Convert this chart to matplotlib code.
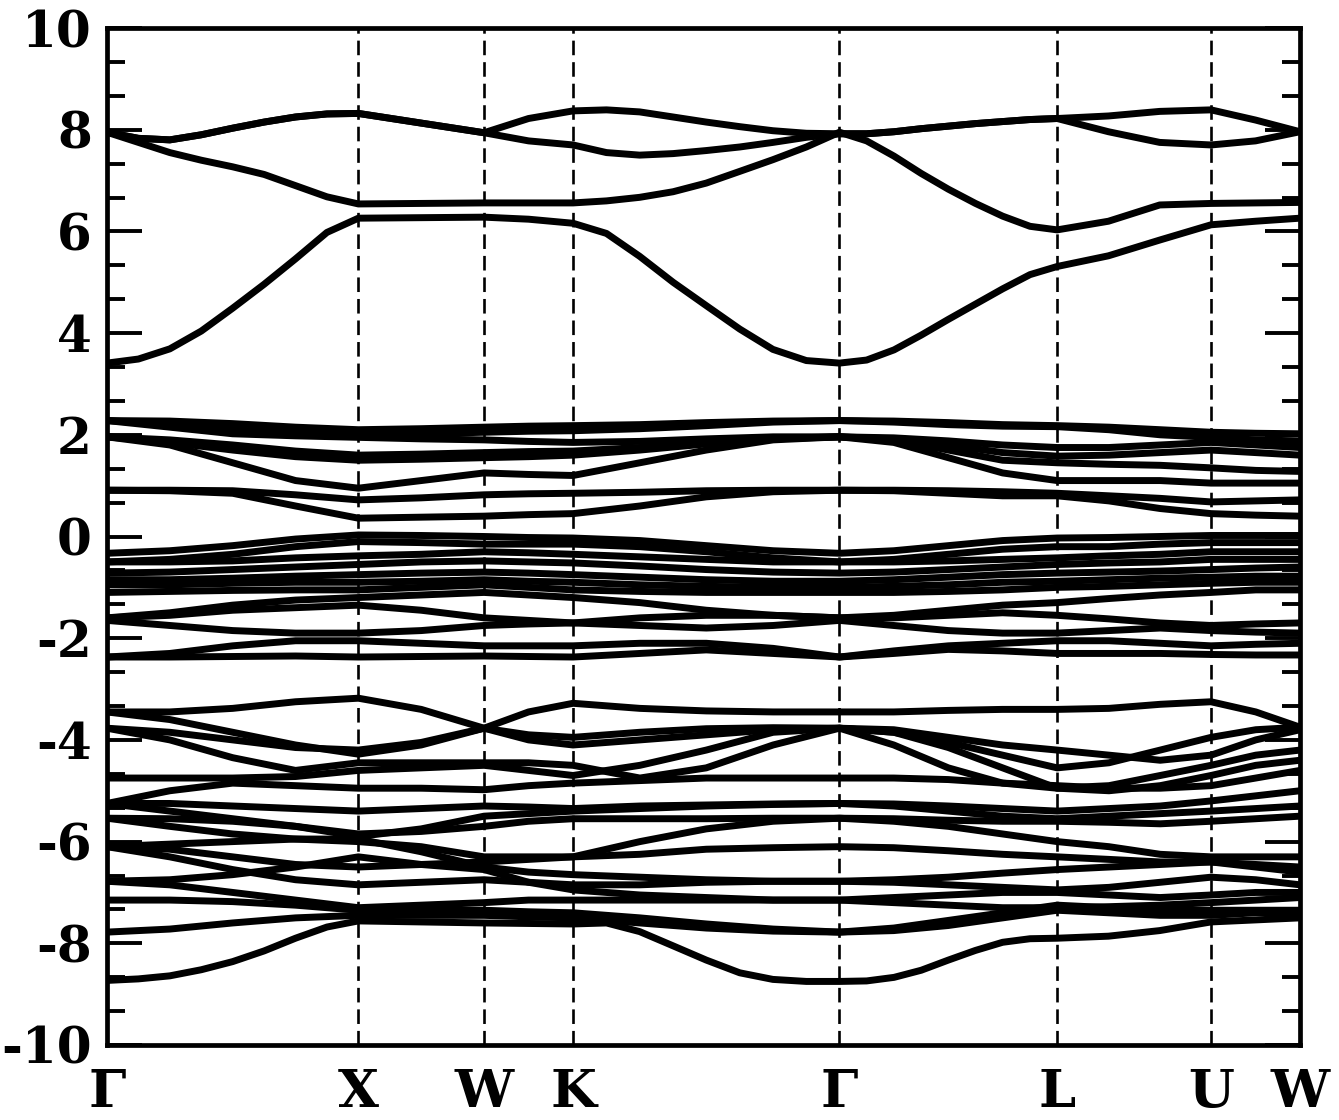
import numpy as np
import matplotlib.pyplot as plt

plt.rcParams['font.family'] = ['DejaVu Serif']
plt.rcParams['font.weight'] = 'bold'
plt.rcParams['axes.unicode_minus'] = False
plt.rcParams['lines.scale_dashes'] = False

# k-path positions (in units of 2pi/a) of the high-symmetry points
sym_k = [0.0, 1.0, 1.5, 1.854, 2.914, 3.780, 4.392, 4.746]
sym_labels = ['Γ', 'X', 'W', 'K', 'Γ', 'L', 'U', 'W']

# coarse k sampling for the flat valence manifolds
kpts = [0.0, 0.25, 0.5, 0.75, 1.0, 1.25, 1.5, 1.677, 1.854, 2.12, 2.384, 2.65,
        2.914, 3.13, 3.347, 3.563, 3.780, 3.986, 4.19, 4.392, 4.57, 4.746]

# finer k sampling for the strongly dispersive bands
kfine = [0.0, 0.125, 0.25, 0.375, 0.5, 0.625, 0.75, 0.875, 1.0, 1.25, 1.5, 1.677,
         1.854, 1.987, 2.119, 2.252, 2.384, 2.517, 2.649, 2.782, 2.914,
         3.022, 3.131, 3.239, 3.347, 3.455, 3.563, 3.672, 3.780,
         3.984, 4.188, 4.392, 4.569, 4.746]

# conduction bands (eV), on kfine
cond_bands = [
    [3.41, 3.49, 3.69, 4.04, 4.49, 4.96, 5.46, 5.98, 6.26, 6.27, 6.28, 6.24,
     6.16, 5.96, 5.51, 5.0, 4.54, 4.08, 3.68, 3.46, 3.41,
     3.47, 3.67, 3.96, 4.27, 4.57, 4.87, 5.15, 5.31, 5.52, 5.83, 6.13, 6.2, 6.26],
    [7.95, 7.75, 7.55, 7.4, 7.27, 7.12, 6.9, 6.68, 6.54, 6.55, 6.56, 6.56,
     6.56, 6.6, 6.67, 6.78, 6.95, 7.18, 7.41, 7.66, 7.95,
     7.78, 7.48, 7.14, 6.83, 6.55, 6.3, 6.1, 6.03, 6.2, 6.52, 6.55, 6.56, 6.57],
    [7.95, 7.83, 7.8, 7.9, 8.03, 8.15, 8.25, 8.31, 8.32, 8.13, 7.94, 7.78,
     7.7, 7.55, 7.5, 7.53, 7.59, 7.66, 7.75, 7.85, 7.92,
     7.92, 7.96, 8.02, 8.07, 8.12, 8.16, 8.2, 8.22, 7.96, 7.75, 7.7, 7.78, 7.96],
    [7.95, 7.83, 7.8, 7.9, 8.03, 8.15, 8.25, 8.31, 8.32, 8.13, 7.94, 8.22,
     8.37, 8.39, 8.35, 8.25, 8.15, 8.06, 7.98, 7.93, 7.92,
     7.92, 7.96, 8.02, 8.07, 8.12, 8.16, 8.2, 8.22, 8.27, 8.36, 8.39, 8.19, 7.96],
]

# upper valence bands (0.3 .. 2.4 eV), on kpts
upper_val = [
    [0.91, 0.9, 0.85, 0.6, 0.36, 0.38, 0.4, 0.43, 0.45, 0.6, 0.78, 0.88, 0.91, 0.9, 0.85, 0.8, 0.8, 0.7, 0.55, 0.45, 0.42, 0.4],
    [0.91, 0.91, 0.9, 0.82, 0.72, 0.76, 0.82, 0.84, 0.85, 0.87, 0.9, 0.91, 0.91, 0.91, 0.9, 0.88, 0.85, 0.8, 0.75, 0.68, 0.7, 0.72],
    [1.96, 1.8, 1.45, 1.1, 0.95, 1.1, 1.25, 1.22, 1.2, 1.45, 1.7, 1.9, 1.96, 1.85, 1.55, 1.25, 1.1, 1.1, 1.1, 1.05, 1.05, 1.05],
    [1.96, 1.85, 1.7, 1.57, 1.5, 1.52, 1.55, 1.57, 1.6, 1.7, 1.82, 1.92, 1.96, 1.9, 1.7, 1.5, 1.45, 1.42, 1.4, 1.35, 1.3, 1.28],
    [1.96, 1.9, 1.8, 1.68, 1.6, 1.62, 1.65, 1.67, 1.68, 1.75, 1.85, 1.93, 1.96, 1.92, 1.8, 1.65, 1.58, 1.6, 1.65, 1.7, 1.65, 1.6],
    [2.28, 2.15, 2.02, 1.98, 1.95, 1.92, 1.9, 1.87, 1.85, 1.87, 1.92, 1.96, 1.96, 1.94, 1.88, 1.8, 1.75, 1.75, 1.8, 1.85, 1.8, 1.75],
    [2.28, 2.2, 2.1, 2.03, 2.0, 2.02, 2.05, 2.07, 2.08, 2.12, 2.18, 2.25, 2.28, 2.25, 2.2, 2.17, 2.16, 2.1, 2.0, 1.95, 1.9, 1.88],
    [2.28, 2.27, 2.22, 2.15, 2.1, 2.12, 2.15, 2.17, 2.18, 2.2, 2.24, 2.27, 2.28, 2.27, 2.24, 2.2, 2.18, 2.15, 2.1, 2.05, 2.03, 2.02],
]

# middle valence bands (0 .. -2.4 eV), on kpts
mid_val = [
    [-2.37, -2.37, -2.36, -2.35, -2.37, -2.36, -2.35, -2.36, -2.37, -2.3, -2.23, -2.3, -2.37, -2.3, -2.22, -2.25, -2.3, -2.3, -2.3, -2.32, -2.33, -2.33],
    [-2.37, -2.3, -2.15, -2.05, -2.05, -2.1, -2.15, -2.15, -2.15, -2.1, -2.1, -2.2, -2.37, -2.25, -2.15, -2.1, -2.05, -2.05, -2.1, -2.15, -2.12, -2.1],
    [-1.65, -1.75, -1.85, -1.9, -1.9, -1.85, -1.75, -1.72, -1.7, -1.75, -1.8, -1.75, -1.65, -1.75, -1.85, -1.9, -1.9, -1.85, -1.8, -1.85, -1.88, -1.9],
    [-1.6, -1.55, -1.45, -1.4, -1.35, -1.45, -1.6, -1.65, -1.7, -1.6, -1.55, -1.55, -1.6, -1.6, -1.55, -1.5, -1.55, -1.62, -1.7, -1.75, -1.72, -1.7],
    [-1.6, -1.5, -1.35, -1.25, -1.2, -1.15, -1.1, -1.15, -1.2, -1.3, -1.45, -1.55, -1.6, -1.55, -1.45, -1.35, -1.3, -1.22, -1.15, -1.1, -1.05, -1.05],
    [-1.1, -1.08, -1.06, -1.05, -1.05, -1.0, -0.95, -1.0, -1.05, -1.08, -1.1, -1.1, -1.1, -1.1, -1.08, -1.05, -1.0, -0.98, -0.95, -0.92, -0.9, -0.9],
    [-0.95, -0.95, -0.92, -0.9, -0.9, -0.88, -0.85, -0.88, -0.9, -0.95, -0.98, -1.0, -1.0, -0.98, -0.95, -0.9, -0.88, -0.85, -0.82, -0.8, -0.78, -0.78],
    [-0.85, -0.85, -0.82, -0.78, -0.75, -0.72, -0.7, -0.72, -0.75, -0.8, -0.85, -0.88, -0.88, -0.85, -0.8, -0.75, -0.72, -0.7, -0.68, -0.65, -0.62, -0.6],
    [-0.72, -0.7, -0.65, -0.6, -0.55, -0.5, -0.48, -0.5, -0.52, -0.58, -0.65, -0.7, -0.72, -0.7, -0.65, -0.6, -0.55, -0.52, -0.5, -0.45, -0.45, -0.45],
    [-0.5, -0.5, -0.48, -0.42, -0.38, -0.35, -0.3, -0.32, -0.35, -0.4, -0.45, -0.5, -0.5, -0.5, -0.48, -0.45, -0.42, -0.38, -0.35, -0.3, -0.3, -0.3],
    [-0.5, -0.45, -0.35, -0.2, -0.1, -0.12, -0.15, -0.15, -0.15, -0.2, -0.3, -0.42, -0.5, -0.45, -0.35, -0.25, -0.2, -0.2, -0.15, -0.12, -0.12, -0.12],
    [-0.33, -0.28, -0.18, -0.05, 0.03, 0.02, 0.0, -0.02, -0.03, -0.08, -0.18, -0.28, -0.33, -0.28, -0.18, -0.08, -0.03, -0.02, 0.0, 0.02, 0.02, 0.02],
]

# deep valence bands (-3 .. -8 eV), on kpts
deep_val = [
    [-3.45, -3.45, -3.38, -3.25, -3.18, -3.4, -3.77, -3.45, -3.28, -3.38, -3.43, -3.45, -3.45, -3.45, -3.42, -3.4, -3.4, -3.38, -3.3, -3.25, -3.45, -3.75],
    [-3.45, -3.6, -3.85, -4.1, -4.28, -4.1, -3.77, -3.9, -3.95, -3.85, -3.78, -3.76, -3.77, -3.85, -4.05, -4.3, -4.55, -4.45, -4.2, -3.95, -3.8, -3.75],
    [-3.77, -3.85, -4.0, -4.15, -4.2, -4.05, -3.77, -4.0, -4.1, -4.0, -3.9, -3.8, -3.77, -3.8, -3.95, -4.1, -4.2, -4.3, -4.4, -4.3, -4.0, -3.8],
    [-3.77, -4.0, -4.35, -4.6, -4.45, -4.45, -4.45, -4.45, -4.5, -4.75, -4.55, -4.1, -3.77, -4.1, -4.55, -4.85, -4.95, -4.9, -4.7, -4.5, -4.3, -4.2],
    [-4.75, -4.75, -4.75, -4.72, -4.6, -4.55, -4.5, -4.6, -4.7, -4.5, -4.2, -3.85, -3.77, -3.85, -4.15, -4.55, -4.95, -5.0, -4.9, -4.7, -4.5, -4.4],
    [-5.25, -5.0, -4.85, -4.9, -4.95, -4.95, -4.98, -4.9, -4.85, -4.8, -4.75, -4.75, -4.75, -4.75, -4.78, -4.85, -4.9, -4.95, -4.95, -4.9, -4.75, -4.6],
    [-5.25, -5.25, -5.3, -5.35, -5.4, -5.35, -5.3, -5.32, -5.35, -5.3, -5.28, -5.26, -5.25, -5.26, -5.3, -5.35, -5.4, -5.35, -5.3, -5.2, -5.1, -5.0],
    [-5.25, -5.4, -5.55, -5.7, -5.9, -5.75, -5.5, -5.45, -5.4, -5.35, -5.3, -5.27, -5.25, -5.3, -5.4, -5.5, -5.55, -5.5, -5.45, -5.4, -5.35, -5.3],
    [-5.54, -5.55, -5.6, -5.7, -5.85, -5.8, -5.7, -5.6, -5.55, -5.55, -5.55, -5.54, -5.54, -5.55, -5.58, -5.6, -5.6, -5.62, -5.65, -5.6, -5.55, -5.5],
    [-5.54, -5.7, -5.85, -5.95, -6.0, -6.1, -6.3, -6.3, -6.3, -6.0, -5.75, -5.6, -5.54, -5.6, -5.7, -5.85, -6.0, -6.1, -6.25, -6.3, -6.3, -6.3],
    [-6.1, -6.15, -6.3, -6.45, -6.5, -6.45, -6.4, -6.35, -6.3, -6.25, -6.15, -6.12, -6.1, -6.12, -6.18, -6.25, -6.3, -6.35, -6.4, -6.4, -6.45, -6.5],
    [-6.1, -6.05, -6.0, -5.95, -5.95, -6.2, -6.5, -6.6, -6.65, -6.7, -6.75, -6.78, -6.78, -6.75, -6.7, -6.62, -6.55, -6.5, -6.45, -6.4, -6.5, -6.6],
    [-6.1, -6.3, -6.55, -6.75, -6.85, -6.8, -6.75, -6.8, -6.85, -6.85, -6.8, -6.78, -6.78, -6.8, -6.85, -6.9, -6.95, -6.9, -6.8, -6.7, -6.75, -6.85],
    [-6.78, -6.75, -6.65, -6.5, -6.3, -6.45, -6.55, -6.8, -6.95, -7.05, -7.1, -7.15, -7.15, -7.1, -7.05, -7.0, -7.0, -7.05, -7.1, -7.05, -7.0, -7.0],
    [-6.78, -6.85, -7.0, -7.15, -7.3, -7.25, -7.2, -7.15, -7.15, -7.15, -7.15, -7.15, -7.15, -7.2, -7.25, -7.3, -7.3, -7.28, -7.25, -7.2, -7.15, -7.1],
    [-7.15, -7.15, -7.18, -7.25, -7.35, -7.35, -7.35, -7.38, -7.4, -7.5, -7.62, -7.72, -7.78, -7.7, -7.55, -7.4, -7.25, -7.3, -7.35, -7.35, -7.35, -7.35],
    [-7.78, -7.72, -7.6, -7.5, -7.45, -7.45, -7.45, -7.48, -7.5, -7.6, -7.7, -7.76, -7.78, -7.75, -7.65, -7.5, -7.35, -7.4, -7.45, -7.45, -7.4, -7.4],
]

# lowest valence band, on kfine
bottom_band = [-8.73, -8.7, -8.64, -8.52, -8.36, -8.15, -7.9, -7.68, -7.56, -7.58, -7.6, -7.61,
               -7.62, -7.6, -7.77, -8.05, -8.33, -8.58, -8.71, -8.75, -8.75,
               -8.74, -8.67, -8.53, -8.33, -8.14, -7.98, -7.91, -7.9, -7.86, -7.75, -7.58, -7.54, -7.5]

fig = plt.figure(figsize=(13.39, 11.2), dpi=100)
ax = fig.add_axes([107 / 1339, 1 - 1045 / 1120, (1300 - 107) / 1339, (1045 - 28) / 1120])

lw = 5.0
for band in cond_bands:
    ax.plot(kfine, band, color='black', linewidth=lw, solid_joinstyle='round')
for group in (upper_val, mid_val, deep_val):
    for band in group:
        ax.plot(kpts, band, color='black', linewidth=lw, solid_joinstyle='round')
ax.plot(kfine, bottom_band, color='black', linewidth=lw, solid_joinstyle='round')

for k in sym_k[1:-1]:
    ax.axvline(k, color='black', linewidth=1.9, linestyle=(0, (10.5, 5)), zorder=0)

ax.set_xlim(sym_k[0], sym_k[-1])
ax.set_ylim(-10, 10)

ax.set_yticks(np.arange(-10, 11, 2))
ax.set_yticks(np.arange(-10, 10.1, 2 / 3), minor=True)
ax.tick_params(axis='y', which='major', direction='in', length=25, width=2.8,
               right=True, labelsize=36, pad=11)
ax.tick_params(axis='y', which='minor', direction='in', length=13, width=2.8, right=True)
ax.set_xticks(sym_k)
ax.set_xticklabels(sym_labels)
ax.tick_params(axis='x', which='both', length=0, labelsize=38, pad=16)
for lab in ax.get_xticklabels() + ax.get_yticklabels():
    lab.set_fontweight('bold')

for sp in ax.spines.values():
    sp.set_linewidth(3.4)

fig.savefig('out.png', dpi=100)
